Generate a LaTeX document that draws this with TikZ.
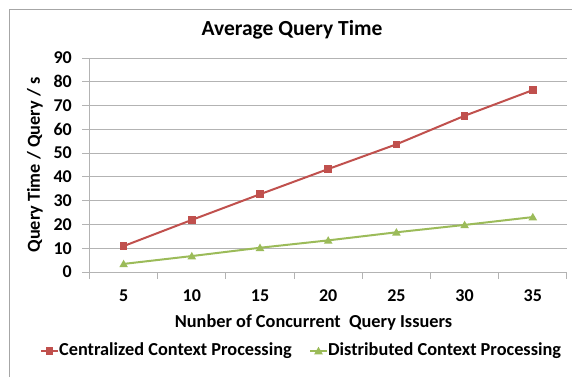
\documentclass[tikz,border=0pt]{standalone}
\usepackage{fontspec}
\setmainfont{Carlito}
\usetikzlibrary{shapes.geometric}
\definecolor{cred}{HTML}{C0504D}
\definecolor{cgreen}{HTML}{9BBB59}
\definecolor{gridc}{HTML}{B3B3B3}
\definecolor{framec}{HTML}{A6A6A6}
\tikzset{
  grid line/.style={draw=gridc, line width=0.9pt},
  tick label/.style={font=\fontsize{18}{18}\selectfont\bfseries, inner sep=0pt},
  axis title/.style={font=\fontsize{18.3}{18}\selectfont\bfseries, inner sep=0pt},
  series red/.style={draw=cred, line width=2pt},
  series green/.style={draw=cgreen, line width=2pt},
  redmark/.style={fill=cred, draw=none, minimum size=7.5pt, inner sep=0pt, rectangle},
  greenmark/.style={fill=cgreen, draw=none, regular polygon, regular polygon sides=3, minimum size=10pt, inner sep=0pt},
}
\begin{document}
\begin{tikzpicture}[x=1pt,y=-1pt]
\useasboundingbox (0,0) rectangle (572,377);
% frame (only top and left visible)
\draw[framec, line width=0.9pt] (9,377) -- (9,9) -- (572,9);
% title
\node[font=\fontsize{21.5}{21.5}\selectfont\bfseries, inner sep=0pt] (title) at (292,30) {Average Query Time};
% grid lines and y labels
\foreach \v in {0,10,...,90}{
  \draw[grid line] (82,{272-\v*2.3778}) -- (567,{272-\v*2.3778});
  \node[tick label, anchor=east] (yl\v) at (72,{272-\v*2.3778}) {\v};
}
% y axis
\draw[grid line] (89.5,58) -- (89.5,272);
% x ticks
\foreach \i in {0,...,7}{
  \draw[grid line] ({89.5+\i*68.2},272) -- ({89.5+\i*68.2},279);
}
% x labels
\foreach \n [count=\i from 0] in {5,10,15,20,25,30,35}{
  \node[tick label] (xl\n) at ({123.6+\i*68.2},296) {\n};
}
% axis titles
\node[axis title] (xtitle) at (313.5,323) {Nunber of Concurrent\ \ Query Issuers};
\node[axis title, rotate=90] (ytitle) at (35,165) {Query Time / Query / s};
% series
\draw[series red] (123.6,{272-10.9*2.3778})
  -- (191.8,{272-21.9*2.3778})
  -- (260.0,{272-32.7*2.3778})
  -- (328.2,{272-43.3*2.3778})
  -- (396.4,{272-53.7*2.3778})
  -- (464.6,{272-65.7*2.3778})
  -- (532.8,{272-76.5*2.3778});
\draw[series green] (123.6,{272-3.4*2.3778})
  -- (191.8,{272-6.7*2.3778})
  -- (260.0,{272-10.2*2.3778})
  -- (328.2,{272-13.3*2.3778})
  -- (396.4,{272-16.7*2.3778})
  -- (464.6,{272-19.8*2.3778})
  -- (532.8,{272-23.1*2.3778});
\foreach \x/\r/\g [count=\k] in {123.6/10.9/3.4, 191.8/21.9/6.7, 260.0/32.7/10.2, 328.2/43.3/13.3, 396.4/53.7/16.7, 464.6/65.7/19.8, 532.8/76.5/23.1}{
  \node[redmark] (r\k) at (\x,{272-\r*2.3778}) {};
  \node[greenmark] (g\k) at (\x,{272-\g*2.3778+0.8}) {};
}
% legend
\coordinate (la1) at (41,351);
\coordinate (lb1) at (58,351);
\draw[series red] (la1) -- (lb1);
\node[redmark] (lm1) at (49.5,351) {};
\node[axis title, anchor=west] (lt1) at (59,351) {Centralized Context Processing};
\coordinate (la2) at (310,351);
\coordinate (lb2) at (327,351);
\draw[series green] (la2) -- (lb2);
\node[greenmark] (lm2) at (318.5,351.8) {};
\node[axis title, anchor=west] (lt2) at (328,351) {Distributed Context Processing};
\end{tikzpicture}
\end{document}
